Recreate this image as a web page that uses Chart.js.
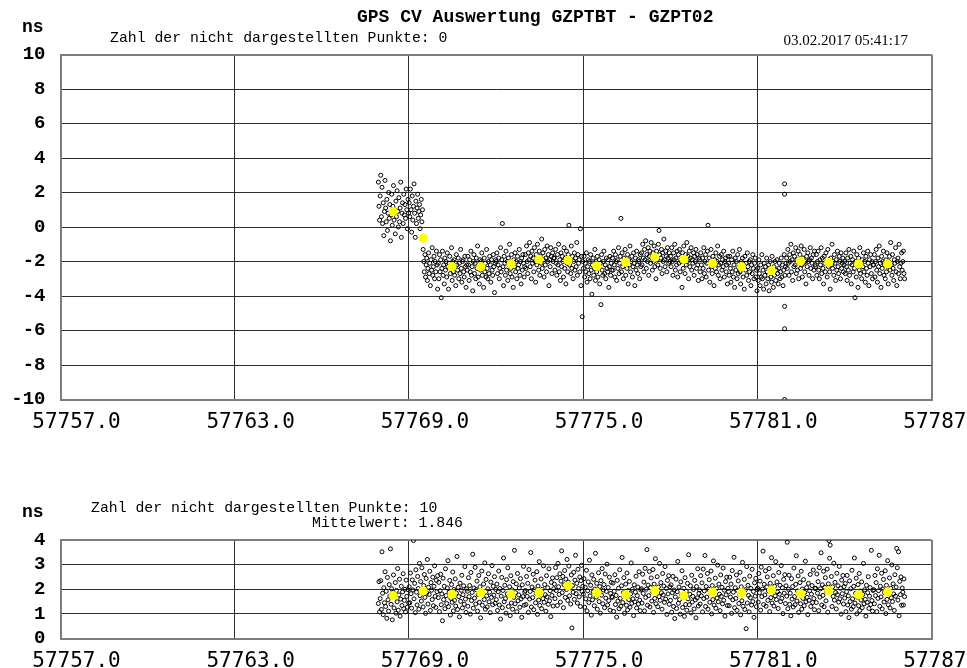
<!DOCTYPE html>
<html>
<head>
<meta charset="utf-8">
<title>GPS CV Auswertung GZPTBT - GZPT02</title>
<script src="https://cdn.jsdelivr.net/npm/chart.js@4.4.1/dist/chart.umd.min.js"></script>
<style>
  html, body { margin: 0; padding: 0; background: #fff; overflow: hidden; }
  #wrap { position: relative; width: 967px; height: 668px; }
  canvas { position: absolute; left: 0; }
  #cvTop { top: 0; }
  #cvBottom { top: 440px; }
</style>
</head>
<body>
<div id="wrap">
  <canvas id="cvTop" width="967" height="440"></canvas>
  <canvas id="cvBottom" width="967" height="228"></canvas>
</div>
<script>
// ---------------------------------------------------------------
// Common-view time comparison GZPTBT - GZPT02, MJD 57767 .. 57786
// Each day holds up to 48 half-hour track slots.
// ---------------------------------------------------------------
const slotsPerDay = 48;

const xTickValues = [57757, 57763, 57769, 57775, 57781, 57787];
const topYTicks = [-10, -8, -6, -4, -2, 0, 2, 4, 6, 8, 10];
const bottomYTicks = [0, 1, 2, 3, 4];

// ---- upper panel: CV differences (ns) ----
const topDays = [57767, 57768, 57769, 57770, 57771, 57772, 57773, 57774, 57775, 57776,
                 57777, 57778, 57779, 57780, 57781, 57782, 57783, 57784, 57785, 57786];
const topFirstSlot = [45, 0, 0, 0, 0, 0, 0, 0, 0, 0, 0, 0, 0, 0, 0, 0, 0, 0, 0, 0];
const topNs = [
  [2.6, 1.2, 0.4],
  [1.8, 3.0, 0.6, 2.3, 0.2, 1.4, -0.5, 0.9, 2.7, 1.1, 0.3, 1.6, -0.2, 0.8, 2.0, 0.5, 1.3, -0.8, 0.7, 1.9, 0.1, 1.2, 2.4, 0.4, 1.0, -0.4, 1.5, 0.6, 2.1, 0.9, 0.0, 1.7, 0.3, 1.1, 2.6, -0.6, 0.8, 1.4, 0.2, 1.9, 0.7, 1.3, 0.5, 2.2, 1.0, -0.1, 1.6, 0.8],
  [1.4, 0.6, 2.2, 1.0, -0.3, 1.8, 0.4, 1.2, 2.5, 0.8, -0.6, 1.5, 0.2, 1.1, 1.9, 0.5, 0.9, 1.3, -0.1, 0.7, 1.6, 0.3, 1.0,
   -1.3, -2.0, -2.6, -1.6, -2.9, -2.2, -1.8, -3.1, -2.4, -1.5, -2.7, -2.1, -3.4, -1.9, -2.5, -1.2, -2.8, -2.3, -1.7, -3.0, -2.0, -2.6, -1.4, -2.2, -3.6],
  [-2.1, -3.0, -1.6, -2.6, -1.9, -4.1, -2.4, -1.4, -2.8, -2.2, -3.3, -1.8, -2.5, -2.0, -2.9, -1.5, -2.3, -3.6, -2.1, -1.7, -2.7, -2.4, -1.2, -3.1, -2.0, -2.6, -1.9, -2.8, -2.3, -3.4, -1.6, -2.2, -2.5, -1.8, -3.0, -2.1, -2.7, -1.3, -2.4, -3.2, -2.0, -1.9, -2.6, -2.9, -1.7, -2.3, -3.5, -2.2],
  [-2.5, -1.7, -2.2, -3.1, -1.9, -2.6, -1.4, -2.8, -2.3, -3.7, -2.0, -1.6, -2.7, -2.1, -3.0, -1.8, -2.4, -1.1, -2.9, -2.2, -3.3, -1.9, -2.5, -2.0, -1.5, -2.8, -2.3, -3.5, -1.8, -2.6, -2.1, -2.9, -1.3, -2.4, -3.0, -2.0, -2.7, -1.7, -2.2, -3.2, -1.9, -2.5, -2.8, -1.6, -2.3, -3.8, -2.1, -1.9],
  [-2.0, -1.5, -2.7, -2.2, -1.8, -3.0, -2.4, -1.2, -2.6, -1.9, 0.2, -2.3, -3.4, -1.7, -2.1, -2.8, -1.4, -2.5, -2.0, -3.1, -1.8, -2.2, -1.0, -2.7, -2.4, -1.6, -2.9, -2.1, -3.5, -1.9, -2.3, -1.5, -2.6, -2.0, -3.0, -1.7, -2.4, -2.2, -1.3, -2.8, -2.0, -3.3, -1.8, -2.5, -1.6, -2.1, -2.9, -2.3],
  [-1.6, -2.4, -1.1, -2.0, -2.7, -1.5, -1.9, -0.9, -2.3, -1.7, -3.0, -1.4, -2.1, -1.8, -2.6, -1.2, -2.0, -3.2, -1.6, -2.2, -1.0, -1.9, -2.5, -1.4, -2.8, -1.7, -2.1, -0.7, -2.4, -1.5, -1.9, -2.9, -1.3, -2.2, -1.8, -2.6, -1.1, -2.0, -1.6, -3.4, -1.9, -2.3, -1.2, -1.7, -2.7, -1.5, -2.0, -1.8],
  [-1.8, -2.5, -1.3, -2.1, -2.8, -1.6, -2.2, -1.0, -2.6, -1.9, -3.1, -1.5, -2.3, -1.7, -2.0, -2.9, -1.2, -2.4, -1.8, -3.3, -1.4, -2.1, -2.6, -1.6, 0.1, -2.2, -1.9, -2.7, -1.1, -2.4, -1.7, -3.0, -2.0, -1.5, -2.5, -1.8, -2.3, -0.9, -2.8, -1.6, -2.1, -1.9, -2.6, -0.1, -3.4, -1.7, -5.2, -2.0],
  [-2.4, -1.7, -2.9, -2.1, -2.6, -1.5, -3.2, -2.3, -1.9, -2.7, -2.0, -3.0, -1.6, -2.5, -3.9, -2.2, -1.8, -2.8, -2.4, -1.3, -3.1, -2.0, -2.6, -1.7, -2.9, -2.3, -1.9, -3.3, -2.1, -4.5, -1.6, -2.5, -2.8, -2.0, -1.4, -2.7, -2.2, -3.0, -1.8, -2.4, -2.6, -1.9, -3.5, -2.3, -1.7, -2.8, -2.1, -2.5],
  [-1.8, -2.5, -1.4, -2.2, -2.9, -1.6, -2.0, -3.1, -1.9, -2.4, -1.2, -2.7, -2.1, -1.7, 0.5, -2.6, -1.5, -2.3, -3.0, -1.8, -2.1, -1.3, -2.8, -2.0, -2.4, -1.6, -3.3, -1.9, -2.2, -1.1, -2.6, -2.0, -1.7, -2.9, -2.3, -1.5, -2.1, -3.4, -1.8, -2.5, -1.4, -2.2, -2.7, -1.9, -2.0, -3.0, -1.6, -2.3],
  [-1.5, -2.2, -1.0, -1.8, -2.6, -1.3, -1.9, -0.8, -2.4, -1.6, -2.0, -1.2, -2.8, -1.7, -1.4, -2.1, -0.9, -1.8, -2.5, -1.5, -2.0, -1.1, -2.3, -1.7, -3.0, -1.4, -1.9, -2.2, -1.0, -0.2, -1.6, -2.4, -1.8, -1.3, -2.7, -1.5, -2.0, -0.7, -1.9, -2.3, -1.4, -1.7, -2.6, -1.2, -1.8, -2.1, -1.5, -2.0],
  [-1.7, -2.3, -1.2, -2.0, -2.8, -1.5, -1.9, -1.0, -2.5, -1.8, -2.2, -1.4, -2.9, -1.6, -2.1, -1.3, -2.6, -1.9, -2.0, -3.5, -1.5, -2.4, -1.1, -1.8, -2.7, -1.6, -2.2, -0.9, -2.0, -1.7, -3.0, -1.4, -2.3, -1.8, -1.2, -2.5, -1.9, -2.1, -1.5, -2.8, -1.7, -2.0, -1.3, -2.4, -1.6, -2.2, -3.1, -1.8],
  [-1.9, -2.6, -1.5, -2.2, -3.0, -1.8, -2.4, -1.2, -2.7, -2.0, -1.6, -2.9, -2.1, -1.4, 0.1, -2.5, -1.8, -3.2, -2.0, -1.3, -2.3, -2.7, -1.7, -2.1, -3.4, -1.9, -2.4, -1.5, -2.6, -2.0, -1.1, -2.8, -2.2, -1.7, -3.0, -2.1, -1.6, -2.5, -1.9, -2.3, -1.4, -2.9, -2.0, -1.8, -2.6, -2.2, -3.3, -1.7],
  [-2.1, -2.8, -1.7, -2.4, -3.2, -1.9, -2.6, -1.4, -2.9, -2.2, -3.5, -1.8, -2.5, -2.0, -3.0, -1.6, -2.7, -2.3, -1.3, -2.6, -3.3, -2.0, -2.4, -1.8, -2.9, -2.2, -3.6, -1.7, -2.5, -2.1, -2.8, -1.5, -2.3, -3.1, -2.0, -2.6, -1.9, -3.4, -2.2, -2.7, -1.6, -2.4, -3.0, -2.1, -1.8, -2.9, -2.5, -3.7],
  [-2.4, -3.1, -1.9, -2.7, -3.4, -2.2, -2.9, -1.6, -3.0, -2.5, -3.6, -2.1, -2.8, -2.3, -3.3, -1.8, -2.6, -3.0, -2.2, -3.7, -2.4, -2.0, -2.9, -3.2, -1.7, -2.6, -3.5, -2.3, -2.8, -2.0, -3.1, -2.5, -1.9, -2.7, -3.3, -2.4, -2.1, -3.0, -2.6, -1.8, -2.9, -2.2, -3.4, -2.5, -1.6, -2.8, -2.3, -2.1],
  [-1.8, -2.4, -1.3, -2.1, -2.8, -1.6, -2.0, -1.0, -2.6, -1.9, -3.1, -1.5, -2.3, -1.7, -2.2, -1.2, -2.7, -1.9, -2.5, -1.4, -3.0, -2.0, -1.6, -2.4, -1.1, -2.2, -2.9, -1.8, -2.1, -1.3, -2.6, -2.0, -3.3, -1.7, -2.3, -1.5, -2.0, -2.8, -1.9, -1.2, -2.4, -1.8, -2.1, -3.0, -1.6, -2.5, -1.4, -2.2],
  [-2.3, -1.6, -2.8, -2.0, -1.4, -2.5, -3.0, -1.9, -2.2, -1.2, -2.7, -1.8, -2.4, -3.3, -1.7, -2.1, -2.6, -1.5, -2.0, -2.9, -1.3, -2.3, -1.9, -2.6, -3.6, -1.8, -2.2, -1.0, -2.4, -2.0, -2.8, -1.6, -2.1, -3.1, -1.9, -2.5, -1.4, -2.3, -2.7, -1.7, -2.0, -3.0, -1.5, -2.4, -2.1, -1.8, -2.6, -2.2],
  [-2.0, -2.7, -1.5, -2.3, -3.1, -1.8, -2.5, -1.3, -2.8, -2.1, -1.7, -3.3, -2.2, -1.9, -2.6, -1.4, -2.4, -4.1, -2.0, -2.9, -1.6, -2.2, -3.5, -1.8, -2.5, -1.2, -2.7, -2.1, -3.0, -1.9, -2.3, -1.5, -2.6, -2.0, -3.2, -1.7, -2.4, -2.8, -1.4, -2.1, -3.4, -1.9, -2.3, -1.6, -2.7, -2.0, -3.0, -2.2],
  [-2.2, -1.6, -2.9, -2.0, -1.3, -2.5, -3.2, -1.8, -2.3, -1.1, -2.7, -2.1, -3.5, -1.7, -2.4, -2.0, -1.4, -2.8, -2.2, -3.0, -1.9, -2.6, -1.5, -2.3, -3.3, -2.0, -1.7, -2.5, -0.9, -2.2, -2.8, -1.6, -2.4, -3.1, -1.9, -2.1, -1.2, -2.6, -3.4, -2.0, -1.8, -2.7, -1.0, -2.3, -3.0, -2.1, -1.5, -2.5],
  [-2.0, -1.4, -2.7, -3.0]
];
// simultaneous tracks on 57781.94 that stand far off the band
const topExtraMjd = [57781.94, 57781.94, 57781.94, 57781.94, 57781.94];
const topExtraNs = [2.5, 1.9, -4.6, -5.9, -10.0];
// daily means
const topMeanMjd = [57768.46, 57769.49, 57770.49, 57771.48, 57772.52, 57773.48, 57774.48, 57775.47, 57776.47,
                    57777.47, 57778.47, 57779.46, 57780.46, 57781.49, 57782.49, 57783.46, 57784.49, 57785.49];
const topMeanNs = [0.89, -0.64, -2.30, -2.30, -2.15, -1.87, -1.93, -2.27, -2.05,
                   -1.76, -1.87, -2.10, -2.30, -2.53, -1.97, -2.05, -2.14, -2.14];

// ---- lower panel ----
const bottomDays = topDays;
const bottomFirstSlot = topFirstSlot;
const bottomNs = [
  [1.42, 2.31, 1.08],
  [1.62, 2.35, 1.18, 3.52, 1.84, 0.97, 2.06, 1.45, 2.71, 1.30, 1.92, 0.82, 2.48, 1.57, 1.11, 2.19, 1.73, 3.64, 1.39, 2.02, 0.76, 1.86, 2.58, 1.24, 1.68, 2.27, 1.03, 1.95, 1.49, 2.84, 1.15, 1.77, 2.41, 0.91, 1.60, 2.12, 1.34, 1.89, 2.63, 1.21, 1.55, 2.00, 1.08, 2.37, 1.71, 1.27, 1.98, 1.44],
  [2.10, 1.45, 2.66, 1.82, 1.23, 2.38, 1.97, 3.98, 1.61, 2.24, 1.05, 2.79, 1.88, 1.36, 2.52, 2.03, 1.19, 3.05, 1.74, 2.31, 1.52, 2.87, 1.93, 1.28, 2.15, 2.60, 1.67, 1.02, 2.44, 1.85, 3.21, 1.40, 2.08, 1.79, 2.73, 1.14, 2.27, 1.96, 1.58, 2.49, 1.33, 2.12, 2.95, 1.71, 1.26, 2.36, 1.90, 2.55],
  [1.66, 2.28, 1.09, 1.94, 2.61, 1.37, 1.81, 0.72, 2.45, 1.58, 2.12, 1.21, 2.83, 1.74, 1.42, 2.05, 3.16, 1.29, 1.88, 2.36, 0.95, 1.63, 2.19, 1.47, 2.70, 1.12, 1.99, 1.55, 2.42, 1.32, 1.85, 3.33, 1.18, 2.08, 1.70, 0.88, 2.25, 1.51, 1.96, 2.57, 1.24, 1.78, 2.14, 1.39, 2.92, 1.60, 1.06, 2.01],
  [1.92, 1.31, 2.47, 1.70, 2.15, 0.99, 2.68, 1.54, 1.87, 3.42, 1.23, 2.05, 1.64, 2.89, 1.40, 1.98, 2.33, 1.11, 1.79, 2.56, 1.47, 2.10, 0.84, 1.93, 2.74, 1.35, 1.82, 2.21, 1.58, 3.07, 1.19, 2.40, 1.73, 1.28, 2.02, 2.63, 1.49, 1.88, 1.05, 2.29, 1.67, 2.96, 1.37, 2.12, 1.76, 2.51, 1.43, 1.99],
  [1.58, 2.21, 1.14, 1.90, 2.74, 1.36, 2.03, 0.79, 1.72, 2.48, 1.25, 1.95, 3.27, 1.49, 2.16, 1.62, 1.03, 2.39, 1.81, 2.87, 1.30, 1.74, 2.10, 0.93, 2.55, 1.44, 1.98, 1.19, 2.31, 1.67, 3.58, 1.41, 1.86, 2.22, 1.09, 2.64, 1.53, 1.77, 2.05, 1.27, 2.43, 1.61, 0.86, 2.18, 1.70, 2.93, 1.35, 1.89],
  [1.95, 1.38, 2.52, 1.71, 2.24, 1.06, 2.80, 1.60, 1.91, 3.49, 1.28, 2.09, 1.66, 2.61, 1.17, 1.98, 2.37, 1.45, 1.83, 2.71, 0.98, 2.13, 1.56, 3.12, 1.34, 1.88, 2.42, 1.21, 2.00, 1.62, 2.95, 1.47, 2.19, 1.78, 1.11, 2.55, 1.69, 2.06, 1.39, 2.83, 1.53, 1.94, 0.89, 2.28, 1.75, 2.46, 1.32, 2.02],
  [2.21, 1.62, 2.88, 1.95, 2.47, 1.34, 3.05, 2.10, 1.79, 2.63, 1.48, 2.33, 3.56, 1.86, 2.52, 1.25, 2.18, 2.76, 1.67, 2.41, 1.99, 3.21, 1.55, 2.29, 2.94, 1.73, 2.06, 1.40, 2.58, 0.43, 2.15, 1.88, 2.69, 1.59, 2.37, 3.38, 1.82, 2.24, 1.44, 2.81, 2.03, 1.69, 2.50, 1.30, 2.35, 2.97, 1.91, 2.12],
  [1.80, 2.43, 1.27, 2.08, 1.61, 2.77, 1.12, 1.94, 2.30, 1.46, 3.18, 1.73, 2.16, 0.95, 2.58, 1.57, 1.89, 2.40, 1.33, 2.01, 3.46, 1.68, 2.24, 1.19, 1.85, 2.67, 1.50, 2.11, 1.03, 2.35, 1.76, 2.84, 1.41, 1.97, 2.19, 1.25, 2.62, 1.64, 1.91, 3.02, 1.36, 2.07, 1.54, 2.49, 1.15, 1.83, 2.28, 1.70],
  [1.67, 2.25, 1.10, 1.92, 2.59, 1.38, 1.75, 0.87, 2.36, 1.52, 2.04, 1.21, 2.79, 1.63, 1.31, 2.14, 3.29, 1.46, 1.86, 2.47, 1.02, 1.70, 2.21, 1.35, 2.66, 1.16, 1.95, 1.58, 2.32, 1.27, 1.81, 3.07, 1.43, 2.00, 1.61, 0.93, 2.18, 1.49, 1.88, 2.53, 1.24, 1.74, 2.09, 1.40, 2.71, 1.56, 1.13, 1.97],
  [2.02, 1.44, 2.61, 1.83, 2.29, 1.12, 2.85, 1.67, 2.00, 3.61, 1.35, 2.17, 1.74, 2.72, 1.28, 2.07, 2.46, 1.52, 1.90, 2.80, 1.06, 2.21, 1.63, 3.24, 1.41, 1.96, 2.51, 1.29, 2.09, 1.70, 3.05, 1.55, 2.27, 1.86, 1.19, 2.64, 1.77, 2.13, 1.47, 2.92, 1.60, 2.03, 0.98, 2.36, 1.81, 2.55, 1.39, 2.10],
  [1.55, 2.18, 1.07, 1.86, 2.52, 1.30, 1.97, 0.81, 1.69, 2.41, 1.22, 1.90, 3.13, 1.43, 2.09, 1.58, 0.99, 2.30, 1.76, 2.75, 1.26, 1.68, 2.04, 0.90, 2.47, 1.38, 1.92, 1.15, 2.24, 1.61, 3.40, 1.37, 1.80, 2.14, 1.04, 2.57, 1.48, 1.71, 1.99, 1.20, 2.36, 1.57, 0.84, 2.11, 1.65, 2.83, 1.32, 1.83],
  [1.97, 1.40, 2.55, 1.73, 2.26, 1.08, 2.82, 1.62, 1.93, 3.37, 1.30, 2.11, 1.68, 2.64, 1.19, 2.00, 2.39, 1.47, 1.85, 2.74, 1.00, 2.15, 1.58, 3.15, 1.36, 1.90, 2.45, 1.23, 2.03, 1.64, 2.98, 1.49, 2.21, 1.80, 1.13, 2.58, 1.71, 2.08, 1.41, 2.86, 1.55, 1.96, 0.91, 2.31, 1.77, 2.49, 1.34, 2.04],
  [1.90, 1.33, 2.49, 1.68, 2.21, 1.02, 2.76, 1.57, 1.88, 3.30, 1.25, 2.06, 1.63, 2.58, 1.14, 1.95, 2.34, 1.42, 1.81, 2.69, 0.96, 2.10, 1.53, 3.09, 1.31, 1.86, 2.40, 1.18, 1.98, 0.40, 2.92, 1.44, 2.16, 1.75, 1.08, 2.53, 1.66, 2.03, 1.36, 2.81, 1.50, 1.91, 0.86, 2.26, 1.72, 2.44, 1.29, 1.99],
  [2.05, 1.48, 2.64, 1.86, 2.33, 1.15, 2.90, 1.70, 2.01, 3.55, 1.38, 2.20, 1.77, 2.75, 1.31, 2.10, 2.50, 1.55, 1.93, 2.84, 1.09, 2.24, 1.66, 3.28, 1.44, 1.99, 2.55, 1.32, 2.12, 1.73, 3.12, 1.58, 2.30, 1.89, 1.22, 2.68, 1.80, 2.16, 1.50, 2.96, 1.63, 2.06, 1.01, 2.40, 1.84, 2.59, 1.42, 2.14],
  [1.72, 3.91, 1.21, 2.00, 2.57, 1.39, 1.84, 0.92, 2.43, 1.60, 2.11, 1.28, 2.86, 1.70, 1.37, 2.20, 3.36, 1.52, 1.93, 2.54, 1.06, 1.76, 2.27, 1.41, 2.73, 1.19, 2.01, 1.63, 2.39, 1.33, 1.87, 3.14, 1.49, 2.07, 1.67, 0.97, 2.24, 1.55, 1.94, 2.60, 1.30, 1.80, 2.15, 1.46, 2.78, 1.62, 1.17, 2.03],
  [2.04, 1.46, 2.62, 1.84, 2.31, 1.13, 2.88, 1.68, 2.02, 3.48, 1.36, 2.18, 1.75, 2.73, 1.29, 2.08, 2.47, 1.53, 1.91, 2.82, 1.07, 2.22, 3.98, 3.26, 3.79, 1.97, 2.52, 1.30, 2.10, 1.71, 3.06, 1.56, 2.28, 1.87, 1.20, 2.65, 1.78, 2.14, 1.48, 2.93, 1.61, 2.04, 0.99, 2.37, 1.82, 2.56, 1.40, 2.11],
  [1.64, 2.23, 1.09, 1.90, 2.56, 1.36, 1.73, 0.85, 2.34, 1.50, 2.02, 1.19, 2.77, 1.61, 1.29, 2.12, 3.27, 1.44, 1.84, 2.45, 1.00, 1.68, 2.19, 1.33, 2.64, 1.14, 1.93, 1.56, 2.30, 1.25, 1.79, 3.05, 1.41, 1.98, 1.59, 0.91, 2.16, 1.47, 1.86, 2.51, 1.22, 1.72, 2.07, 1.38, 3.58, 1.54, 1.11, 1.95],
  [1.98, 1.41, 2.56, 1.74, 2.27, 1.09, 2.83, 1.63, 1.94, 3.38, 1.31, 2.12, 1.69, 2.65, 1.20, 2.01, 2.40, 1.48, 1.86, 2.75, 1.01, 2.16, 1.59, 3.16, 1.37, 1.91, 2.46, 1.24, 2.04, 1.65, 2.99, 1.50, 2.22, 1.81, 1.14, 2.59, 1.72, 2.09, 3.66, 2.87, 1.56, 3.52, 0.92, 2.32, 1.78, 2.50, 1.35, 2.05],
  [1.88, 1.36, 2.42, 1.70]
];
const bottomMeanMjd = topMeanMjd;
const bottomMeanNs = [1.74, 1.93, 1.80, 1.86, 1.80, 1.86, 2.14, 1.86, 1.78,
                      1.95, 1.74, 1.88, 1.86, 1.97, 1.82, 1.95, 1.78, 1.89];

// ---- texts ----
const titleText = 'GPS CV Auswertung GZPTBT - GZPT02';
const stampText = '03.02.2017 05:41:17';
const unitText = 'ns';
const topHiddenText = 'Zahl der nicht dargestellten Punkte: 0';
const bottomHiddenText = 'Zahl der nicht dargestellten Punkte: 10';
const bottomMeanText = 'Mittelwert: 1.846';

// ---------------------------------------------------------------
function trackPoints(days, firstSlots, values, extraX, extraY) {
  const pts = [];
  days.forEach((day, k) => {
    values[k].forEach((v, i) => {
      pts.push({ x: day + (firstSlots[k] + i + 0.5) / slotsPerDay, y: v });
    });
  });
  (extraX || []).forEach((x, i) => pts.push({ x: x, y: extraY[i] }));
  return pts;
}
function pairPoints(xs, ys) {
  return xs.map((x, i) => ({ x: x, y: ys[i] }));
}

const MONO = '"Courier New", "Liberation Mono", monospace';
const FRAME = '#7d7d7d';
const INNER = '#2e2e2e';

function textLayer(items) {
  return {
    id: 'pageText',
    afterDraw(chart) {
      const ctx = chart.ctx;
      ctx.save();
      ctx.fillStyle = '#000';
      ctx.textBaseline = 'alphabetic';
      items.forEach(t => {
        ctx.font = t.font;
        ctx.textAlign = t.align || 'left';
        ctx.fillText(t.text, t.x, t.y);
      });
      ctx.restore();
    }
  };
}

function panel(canvasId, cfg) {
  const edge = (v) => v === cfg.yMin || v === cfg.yMax;
  const xEdge = (v) => v === xTickValues[0] || v === xTickValues[xTickValues.length - 1];
  return new Chart(document.getElementById(canvasId), {
    type: 'scatter',
    data: {
      datasets: [
        {
          data: pairPoints(cfg.meanX, cfg.meanY),
          pointRadius: 4.6,
          pointBackgroundColor: '#ffff00',
          pointBorderColor: '#ffff00',
          pointBorderWidth: 0,
          showLine: false
        },
        {
          data: cfg.points,
          pointRadius: 2,
          pointBorderWidth: 1,
          pointBorderColor: '#000',
          pointBackgroundColor: 'rgba(0,0,0,0)',
          showLine: false
        }
      ]
    },
    options: {
      responsive: false,
      animation: false,
      devicePixelRatio: 1,
      events: [],
      layout: { padding: { left: 0, right: 35.5, top: cfg.padTop, bottom: cfg.padBottom } },
      plugins: { legend: { display: false }, tooltip: { enabled: false }, title: { display: false } },
      scales: {
        x: {
          type: 'linear',
          min: xTickValues[0],
          max: xTickValues[xTickValues.length - 1],
          afterBuildTicks: (s) => { s.ticks = xTickValues.map(v => ({ value: v })); },
          afterFit: (s) => { s.height = cfg.xAxisHeight; s.paddingLeft = 0; s.paddingRight = 0; },
          ticks: {
            autoSkip: false, maxRotation: 0, minRotation: 0,
            labelOffset: 16, padding: 10, color: '#000',
            font: { family: '"DejaVu Sans Mono", monospace', size: 21 },
            callback: (v) => Number(v).toFixed(1)
          },
          grid: {
            drawTicks: false,
            color: (c) => (c.tick && xEdge(c.tick.value)) ? FRAME : INNER,
            lineWidth: (c) => (c.tick && xEdge(c.tick.value)) ? 2 : 1
          },
          border: { display: true, color: FRAME, width: 2 }
        },
        y: {
          type: 'linear',
          min: cfg.yMin,
          max: cfg.yMax,
          afterBuildTicks: (s) => { s.ticks = cfg.yTicks.map(v => ({ value: v })); },
          afterFit: (s) => { s.width = 60.5; s.paddingTop = 0; s.paddingBottom = 0; },
          ticks: {
            autoSkip: false,
            padding: 15, color: '#000',
            font: { family: MONO, size: 19, weight: 'bold' },
            callback: (v) => String(v)
          },
          grid: {
            drawTicks: false,
            color: (c) => (c.tick && edge(c.tick.value)) ? FRAME : INNER,
            lineWidth: (c) => (c.tick && edge(c.tick.value)) ? 2 : 1
          },
          border: { display: true, color: FRAME, width: 2 }
        }
      }
    },
    plugins: [textLayer(cfg.texts)]
  });
}

panel('cvTop', {
  points: trackPoints(topDays, topFirstSlot, topNs, topExtraMjd, topExtraNs),
  meanX: topMeanMjd, meanY: topMeanNs,
  yMin: -10, yMax: 10, yTicks: topYTicks,
  padTop: 54.5, padBottom: 10.5, xAxisHeight: 30,
  texts: [
    { text: titleText, x: 357, y: 21.5, font: 'bold 18px ' + MONO },
    { text: unitText, x: 22, y: 31.5, font: 'bold 18px ' + MONO },
    { text: topHiddenText, x: 110, y: 41.5, font: '14.8px ' + MONO },
    { text: stampText, x: 908, y: 45, align: 'right', font: '15px "Times New Roman", "Liberation Serif", serif' }
  ]
});

panel('cvBottom', {
  points: trackPoints(bottomDays, bottomFirstSlot, bottomNs),
  meanX: bottomMeanMjd, meanY: bottomMeanNs,
  yMin: 0, yMax: 4, yTicks: bottomYTicks,
  padTop: 100, padBottom: 0, xAxisHeight: 29.5,
  texts: [
    { text: unitText, x: 22, y: 76.7, font: 'bold 18px ' + MONO },
    { text: bottomHiddenText, x: 91, y: 72, font: '14.8px ' + MONO },
    { text: bottomMeanText, x: 312, y: 86.5, font: '14.8px ' + MONO }
  ]
});
</script>
</body>
</html>
